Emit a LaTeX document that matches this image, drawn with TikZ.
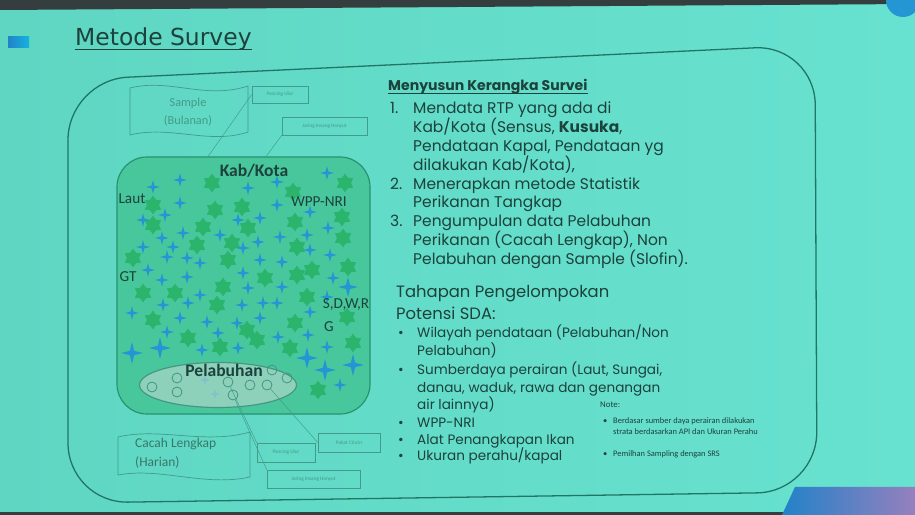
\documentclass[tikz,border=0pt]{standalone}
\usepackage{fontspec}
\setmainfont{Carlito}
\newfontfamily\judulfont{DejaVu Sans}
\newfontfamily\isifont{Poppins}
\usetikzlibrary{shapes.geometric}

\definecolor{latar}{RGB}{94,214,194}
\definecolor{latarkanan}{RGB}{104,226,208}
\definecolor{tinta}{RGB}{28,66,60}
\definecolor{bingkai}{RGB}{32,118,100}
\definecolor{isikab}{RGB}{72,198,156}
\definecolor{gariskab}{RGB}{40,146,112}
\definecolor{hijaubintang}{RGB}{42,180,108}
\definecolor{birukilau}{RGB}{36,150,212}
\definecolor{isipel}{RGB}{172,214,200}
\definecolor{garispel}{RGB}{70,150,130}
\definecolor{tipis}{RGB}{66,156,136}
\definecolor{gelap}{RGB}{52,62,62}
\definecolor{biru}{RGB}{34,130,200}
\definecolor{ungu}{RGB}{150,128,190}

\tikzset{
  bintang/.style={star, star points=6, star point ratio=1.55, fill=hijaubintang, minimum size=0.56cm, inner sep=0pt},
  kilau/.style={star, star points=4, star point ratio=3.6, fill=birukilau, minimum size=#1, inner sep=0pt},
  kilau/.default=0.42cm,
  lingkar/.style={circle, draw=garispel, line width=0.7pt, minimum size=0.3cm, inner sep=0pt},
  kotakkecil/.style={draw=tipis, line width=0.5pt, text=tipis, font=\fontsize{4.5}{5}\selectfont, inner sep=0pt},
  label/.style={text=tinta, font=\fontsize{13}{13}\selectfont, inner sep=0pt},
  baris/.style={anchor=base west, inner sep=0pt, text=tinta, font=\isifont\fontsize{13.2}{16}\selectfont},
  poin/.style={anchor=base west, inner sep=0pt, text=tinta, font=\isifont\fontsize{11.6}{14}\selectfont},
  catatan/.style={anchor=base west, inner sep=0pt, text=tinta, font=\fontsize{7.2}{8}\selectfont},
  tali/.style={draw=tipis, line width=0.4pt},
}

\begin{document}
\begin{tikzpicture}[x=0.03cm,y=-0.03cm]
\useasboundingbox (0,0) rectangle (915,515);
\clip (0,0) rectangle (915,515);
% slide
\shade[left color=latar, right color=latarkanan] (0,0) rectangle (915,515);
\fill[gelap] (0,0) -- (915,0) -- (915,4) -- (0,10) -- cycle;
\fill[gelap] (0,512) rectangle (915,515);
\fill[birukilau] (903,0) circle (17);
\shade[left color=biru, right color=ungu] (782,515) -- (795,487) -- (915,487) -- (915,515) -- cycle;
\shade[left color=biru, right color=biru!60!cyan] (8,37) rectangle (29,48);

% judul
\node[anchor=base west, inner sep=0pt, text=tinta, font=\judulfont\fontsize{20}{20}\selectfont] (judul) at (75,46) {Metode Survey};
\draw[tinta, line width=1.2pt] ([yshift=-3pt]judul.base west) -- ([yshift=-3pt]judul.base east);

% bingkai besar
\draw[bingkai, line width=1.1pt, rounded corners=1.8cm] (68,503) -- (68,80) -- (815,45) -- (817,492) -- cycle;

% sample dan cacah lengkap
\draw[tipis, line width=0.6pt] (130,88) .. controls (170,78) and (205,100) .. (248,86) -- (248,132) .. controls (210,145) and (170,125) .. (130,135) -- cycle;
\node[text=tipis, align=center, inner sep=0pt, font=\fontsize{10.5}{15}\selectfont] (sampel) at (188,112) {Sample\\(Bulanan)};
\draw[tipis, line width=0.6pt] (118,437) .. controls (160,427) and (205,445) .. (250,432) -- (250,477) .. controls (205,487) and (160,467) .. (118,475) -- cycle;
\node[text=garispel!80!black, align=left, anchor=west, inner sep=0pt, font=\fontsize{11.5}{16}\selectfont] (cacah) at (135,453) {Cacah Lengkap\\(Harian)};

% kotak alat tangkap
\node[kotakkecil, minimum width=1.68cm, minimum height=0.51cm] (pu1) at (280,94.5) {Pancing Ulur};
\node[kotakkecil, minimum width=2.55cm, minimum height=0.54cm] (jr1) at (324.5,126) {Jaring Insang Hanyut};
\node[kotakkecil, minimum width=1.74cm, minimum height=0.57cm] (pu2) at (286,452.5) {Pancing Ulur};
\node[kotakkecil, minimum width=1.86cm, minimum height=0.57cm] (pk) at (349,442.5) {Pukat Cincin};
\node[kotakkecil, minimum width=2.79cm, minimum height=0.54cm] (jr2) at (313.5,479) {Jaring Insang Hanyut};

% wilayah kab/kota
\node[draw=gariskab, fill=isikab, line width=1pt, rounded corners=0.9cm, minimum width=7.59cm, minimum height=7.71cm] (kab) at (243.5,285.5) {};
\coordinate (ujung1) at (207,158);
\coordinate (ujung2) at (265,158);
\draw[tali] (pu1.west) -- (ujung1);
\draw[tali] (jr1.south west) -- (ujung2);

\foreach \x/\y [count=\i] in {212/183, 345/183, 153/205, 215/210, 242/207, 293/192, 295/222, 342/217,
  153/225, 203/227, 248/228, 297/247, 343/238, 197/245, 232/243, 133/258, 228/260, 265/278,
  312/270, 297/275, 348/267, 143/293, 175/293, 223/287, 307/297, 217/305, 153/320, 188/338,
  220/347, 247/330, 257/340, 295/323, 290/348, 347/317, 353/343, 318/390}
  \node[bintang] (b\i) at (\x,\y) {};

\foreach \x/\y/\s [count=\i] in {180/180/0.42cm, 153/187/0.42cm, 248/188/0.42cm, 277/182/0.42cm,
  327/173/0.42cm, 180/203/0.42cm, 277/205/0.42cm, 310/212/0.42cm, 165/215/0.42cm, 143/220/0.42cm,
  238/220/0.42cm, 260/218/0.42cm, 328/228/0.42cm, 162/238/0.42cm, 183/233/0.42cm, 220/235/0.42cm,
  280/237/0.42cm, 307/235/0.42cm, 143/247/0.42cm, 173/247/0.42cm, 243/248/0.42cm, 258/242/0.42cm,
  310/250/0.42cm, 167/257/0.42cm, 187/258/0.42cm, 200/263/0.42cm, 260/260/0.42cm, 282/262/0.42cm,
  330/255/0.42cm, 148/270/0.42cm, 162/280/0.42cm, 187/277/0.42cm, 243/273/0.42cm, 282/287/0.42cm,
  333/278/0.42cm, 348/287/0.6cm, 200/295/0.42cm, 248/288/0.42cm, 163/305/0.42cm, 188/303/0.42cm,
  242/305/0.42cm, 263/303/0.42cm, 277/303/0.42cm, 327/297/0.42cm, 132/313/0.42cm, 180/318/0.42cm,
  207/322/0.42cm, 237/323/0.42cm, 260/318/0.42cm, 310/312/0.42cm, 167/332/0.42cm, 218/333/0.42cm,
  278/337/0.42cm, 308/335/0.42cm, 132/353/0.66cm, 160/348/0.66cm, 202/350/0.42cm, 238/348/0.42cm,
  307/358/0.66cm, 327/347/0.42cm, 325/370/0.66cm, 353/365/0.66cm, 340/385/0.42cm,
  205/380/0.34cm, 215/394/0.34cm, 255/373/0.34cm}
  \node[kilau=\s] (k\i) at (\x,\y) {};

% pelabuhan
\node[ellipse, draw=garispel, line width=1pt, fill=isipel, fill opacity=0.7, minimum width=4.71cm, minimum height=1.35cm] (pel) at (218,385) {};
\foreach \x/\y [count=\i] in {152/387, 177/392, 228/382, 233/395, 250/385, 267/385, 287/378, 272/370, 177/378}
  \node[lingkar] (c\i) at (\x,\y) {};
\draw[tali] (c3) -- (pu2.north west);
\draw[tali] (c6) -- (pk.west);
\draw[tali] (c4) -- (jr2.north west);

% label wilayah
\node[label, font=\bfseries\fontsize{15}{15}\selectfont] (lkab) at (254,171) {Kab/Kota};
\node[label] (llaut) at (132,199) {Laut};
\node[label] (lwpp) at (319,202) {WPP-NRI};
\node[label] (lgt) at (128,277) {GT};
\node[label] (lsdwr) at (346,305) {S,D,W,R};
\node[label] (lg) at (329,327) {G};
\node[label, font=\bfseries\fontsize{15}{15}\selectfont] (lpel) at (224,370) {Pelabuhan};

% menyusun kerangka survei
\node[baris, font=\isifont\bfseries\fontsize{12}{14}\selectfont] (kerangka) at (388,91) {Menyusun Kerangka Survei};
\draw[tinta, line width=0.9pt] ([yshift=-2.5pt]kerangka.base west) -- ([yshift=-2.5pt]kerangka.base east);
\node[baris] (n1) at (390,114) {1.};
\node[baris] (a1) at (413,114) {Mendata RTP yang ada di};
\node[baris] (a2) at (413,132.8) {Kab/Kota (Sensus, \textbf{Kusuka},};
\node[baris] (a3) at (413,151.6) {Pendataan Kapal, Pendataan yg};
\node[baris] (a4) at (413,170.4) {dilakukan Kab/Kota),};
\node[baris] (n2) at (390,189.2) {2.};
\node[baris] (a5) at (413,189.2) {Menerapkan metode Statistik};
\node[baris] (a6) at (413,208) {Perikanan Tangkap};
\node[baris] (n3) at (390,226.8) {3.};
\node[baris] (a7) at (413,226.8) {Pengumpulan data Pelabuhan};
\node[baris] (a8) at (413,245.6) {Perikanan (Cacah Lengkap), Non};
\node[baris] (a9) at (413,264.4) {Pelabuhan dengan Sample (Slofin).};

% tahapan pengelompokan
\node[baris, font=\isifont\fontsize{14}{17}\selectfont] (tahap1) at (396,298) {Tahapan Pengelompokan};
\node[baris, font=\isifont\fontsize{14}{17}\selectfont] (tahap2) at (396,320) {Potensi SDA:};
\node[poin] (p1) at (398,338) {\textbullet};
\node[poin] (t1) at (417,338) {Wilayah pendataan (Pelabuhan/Non};
\node[poin] (t2) at (417,356) {Pelabuhan)};
\node[poin] (p2) at (398,375) {\textbullet};
\node[poin] (t3) at (417,375) {Sumberdaya perairan (Laut, Sungai,};
\node[poin] (t4) at (417,393) {danau, waduk, rawa dan genangan};
\node[poin] (t5) at (417,410) {air lainnya)};
\node[poin] (p3) at (398,428) {\textbullet};
\node[poin] (t6) at (417,428) {WPP-NRI};
\node[poin] (p4) at (398,445) {\textbullet};
\node[poin] (t7) at (417,445) {Alat Penangkapan Ikan};
\node[poin] (p5) at (398,461) {\textbullet};
\node[poin] (t8) at (417,461) {Ukuran perahu/kapal};

% note
\node[catatan, font=\fontsize{7.5}{8}\selectfont] (note) at (600,408) {Note:};
\node[catatan] (q1) at (603,424) {\textbullet};
\node[catatan] (nt1) at (613,424) {Berdasar sumber daya perairan dilakukan};
\node[catatan] (nt2) at (613,435) {strata berdasarkan API dan Ukuran Perahu};
\node[catatan] (q2) at (603,457) {\textbullet};
\node[catatan] (nt3) at (613,457) {Pemilhan Sampling dengan SRS};
\end{tikzpicture}
\end{document}
